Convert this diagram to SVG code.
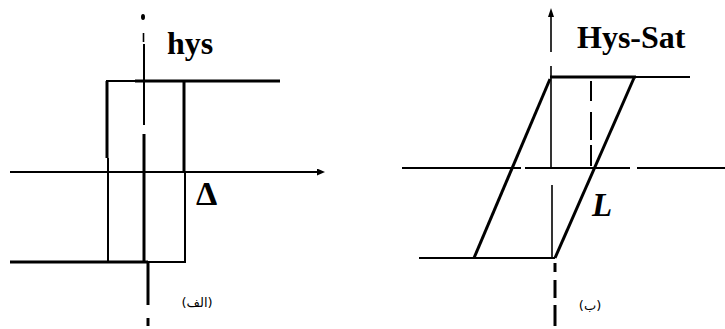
<svg xmlns="http://www.w3.org/2000/svg" width="725" height="329" viewBox="0 0 725 329">
<style>
.thin{stroke:#000;stroke-width:1.6;fill:none}
.mid{stroke:#000;stroke-width:2;fill:none}
.thick{stroke:#000;stroke-width:3;fill:none}
.lbl{font-family:"Liberation Serif",serif;font-weight:bold;fill:#000}
.ar{font-family:"DejaVu Sans",sans-serif;font-size:13px;fill:#000}
</style>
<defs>
<marker id="ah" markerWidth="8" markerHeight="7" refX="1" refY="3.5" orient="auto" markerUnits="userSpaceOnUse">
<path d="M0,0 L8,3.5 L0,7 Z" fill="#000"/>
</marker>
</defs>
<rect width="725" height="329" fill="#fff"/>
<g id="connectors">
<ellipse cx="143" cy="17" rx="2" ry="3" fill="#000"/>
<line class="thin" x1="143.5" y1="33" x2="143.5" y2="42"/>
<line class="mid" x1="144" y1="44" x2="144" y2="125"/>
<line class="thick" x1="144" y1="134" x2="144" y2="262"/>
<line class="thick" x1="148" y1="262" x2="148" y2="305"/>
<line class="thick" x1="148" y1="318" x2="148" y2="326"/>
<line class="mid" x1="10" y1="172" x2="318" y2="172" marker-end="url(#ah)"/>
<path d="M551,8 L554,17 L548,17 Z" fill="#000"/>
<line class="thin" x1="551" y1="16" x2="551" y2="52"/>
<line class="thin" x1="551" y1="66" x2="551" y2="168"/>
<line class="thin" x1="552" y1="185" x2="552" y2="258"/>
<line class="thick" x1="555" y1="263" x2="555" y2="272"/>
<line class="thick" x1="555" y1="280" x2="555" y2="298"/>
<line class="thick" x1="555" y1="305" x2="555" y2="326"/>
<line class="mid" x1="402" y1="168" x2="521" y2="168"/>
<line class="mid" x1="525" y1="168" x2="630" y2="168"/>
<line class="mid" x1="637" y1="168" x2="725" y2="168"/>
</g>
<g id="hys">
<line class="mid" x1="106" y1="81" x2="136" y2="81"/>
<line class="thick" x1="135" y1="81" x2="280" y2="81"/>
<line class="thick" x1="107" y1="81" x2="107" y2="158"/>
<line class="mid" x1="108" y1="158" x2="108" y2="262"/>
<line class="thick" x1="184" y1="81" x2="184" y2="172"/>
<line class="mid" x1="185" y1="172" x2="185" y2="262"/>
<line class="thick" x1="10" y1="262" x2="148" y2="262"/>
<line class="mid" x1="148" y1="262" x2="186" y2="262"/>
<text class="lbl" x="167" y="54" font-size="32">hys</text>
<text class="lbl" x="196" y="205" font-size="34">Δ</text>
<text class="ar" x="197" y="307" text-anchor="middle">(الف)</text>
</g>
<g id="hys-sat">
<line class="thick" x1="550" y1="77" x2="636" y2="77"/>
<line class="mid" x1="635" y1="77" x2="690" y2="77"/>
<line class="mid" x1="419" y1="258" x2="555" y2="258"/>
<line class="thick" x1="474" y1="258" x2="550" y2="79"/>
<line class="thick" x1="555" y1="258" x2="634" y2="78"/>
<line class="mid" x1="591" y1="81" x2="591" y2="101"/>
<line class="mid" x1="591" y1="112" x2="591" y2="140"/>
<line class="mid" x1="591" y1="145" x2="591" y2="166"/>
<text class="lbl" x="577" y="48" font-size="32">Hys-Sat</text>
<text class="lbl" x="592" y="216" font-size="33" font-style="italic">L</text>
<text class="ar" x="590" y="310" text-anchor="middle">(ب)</text>
</g>
</svg>
